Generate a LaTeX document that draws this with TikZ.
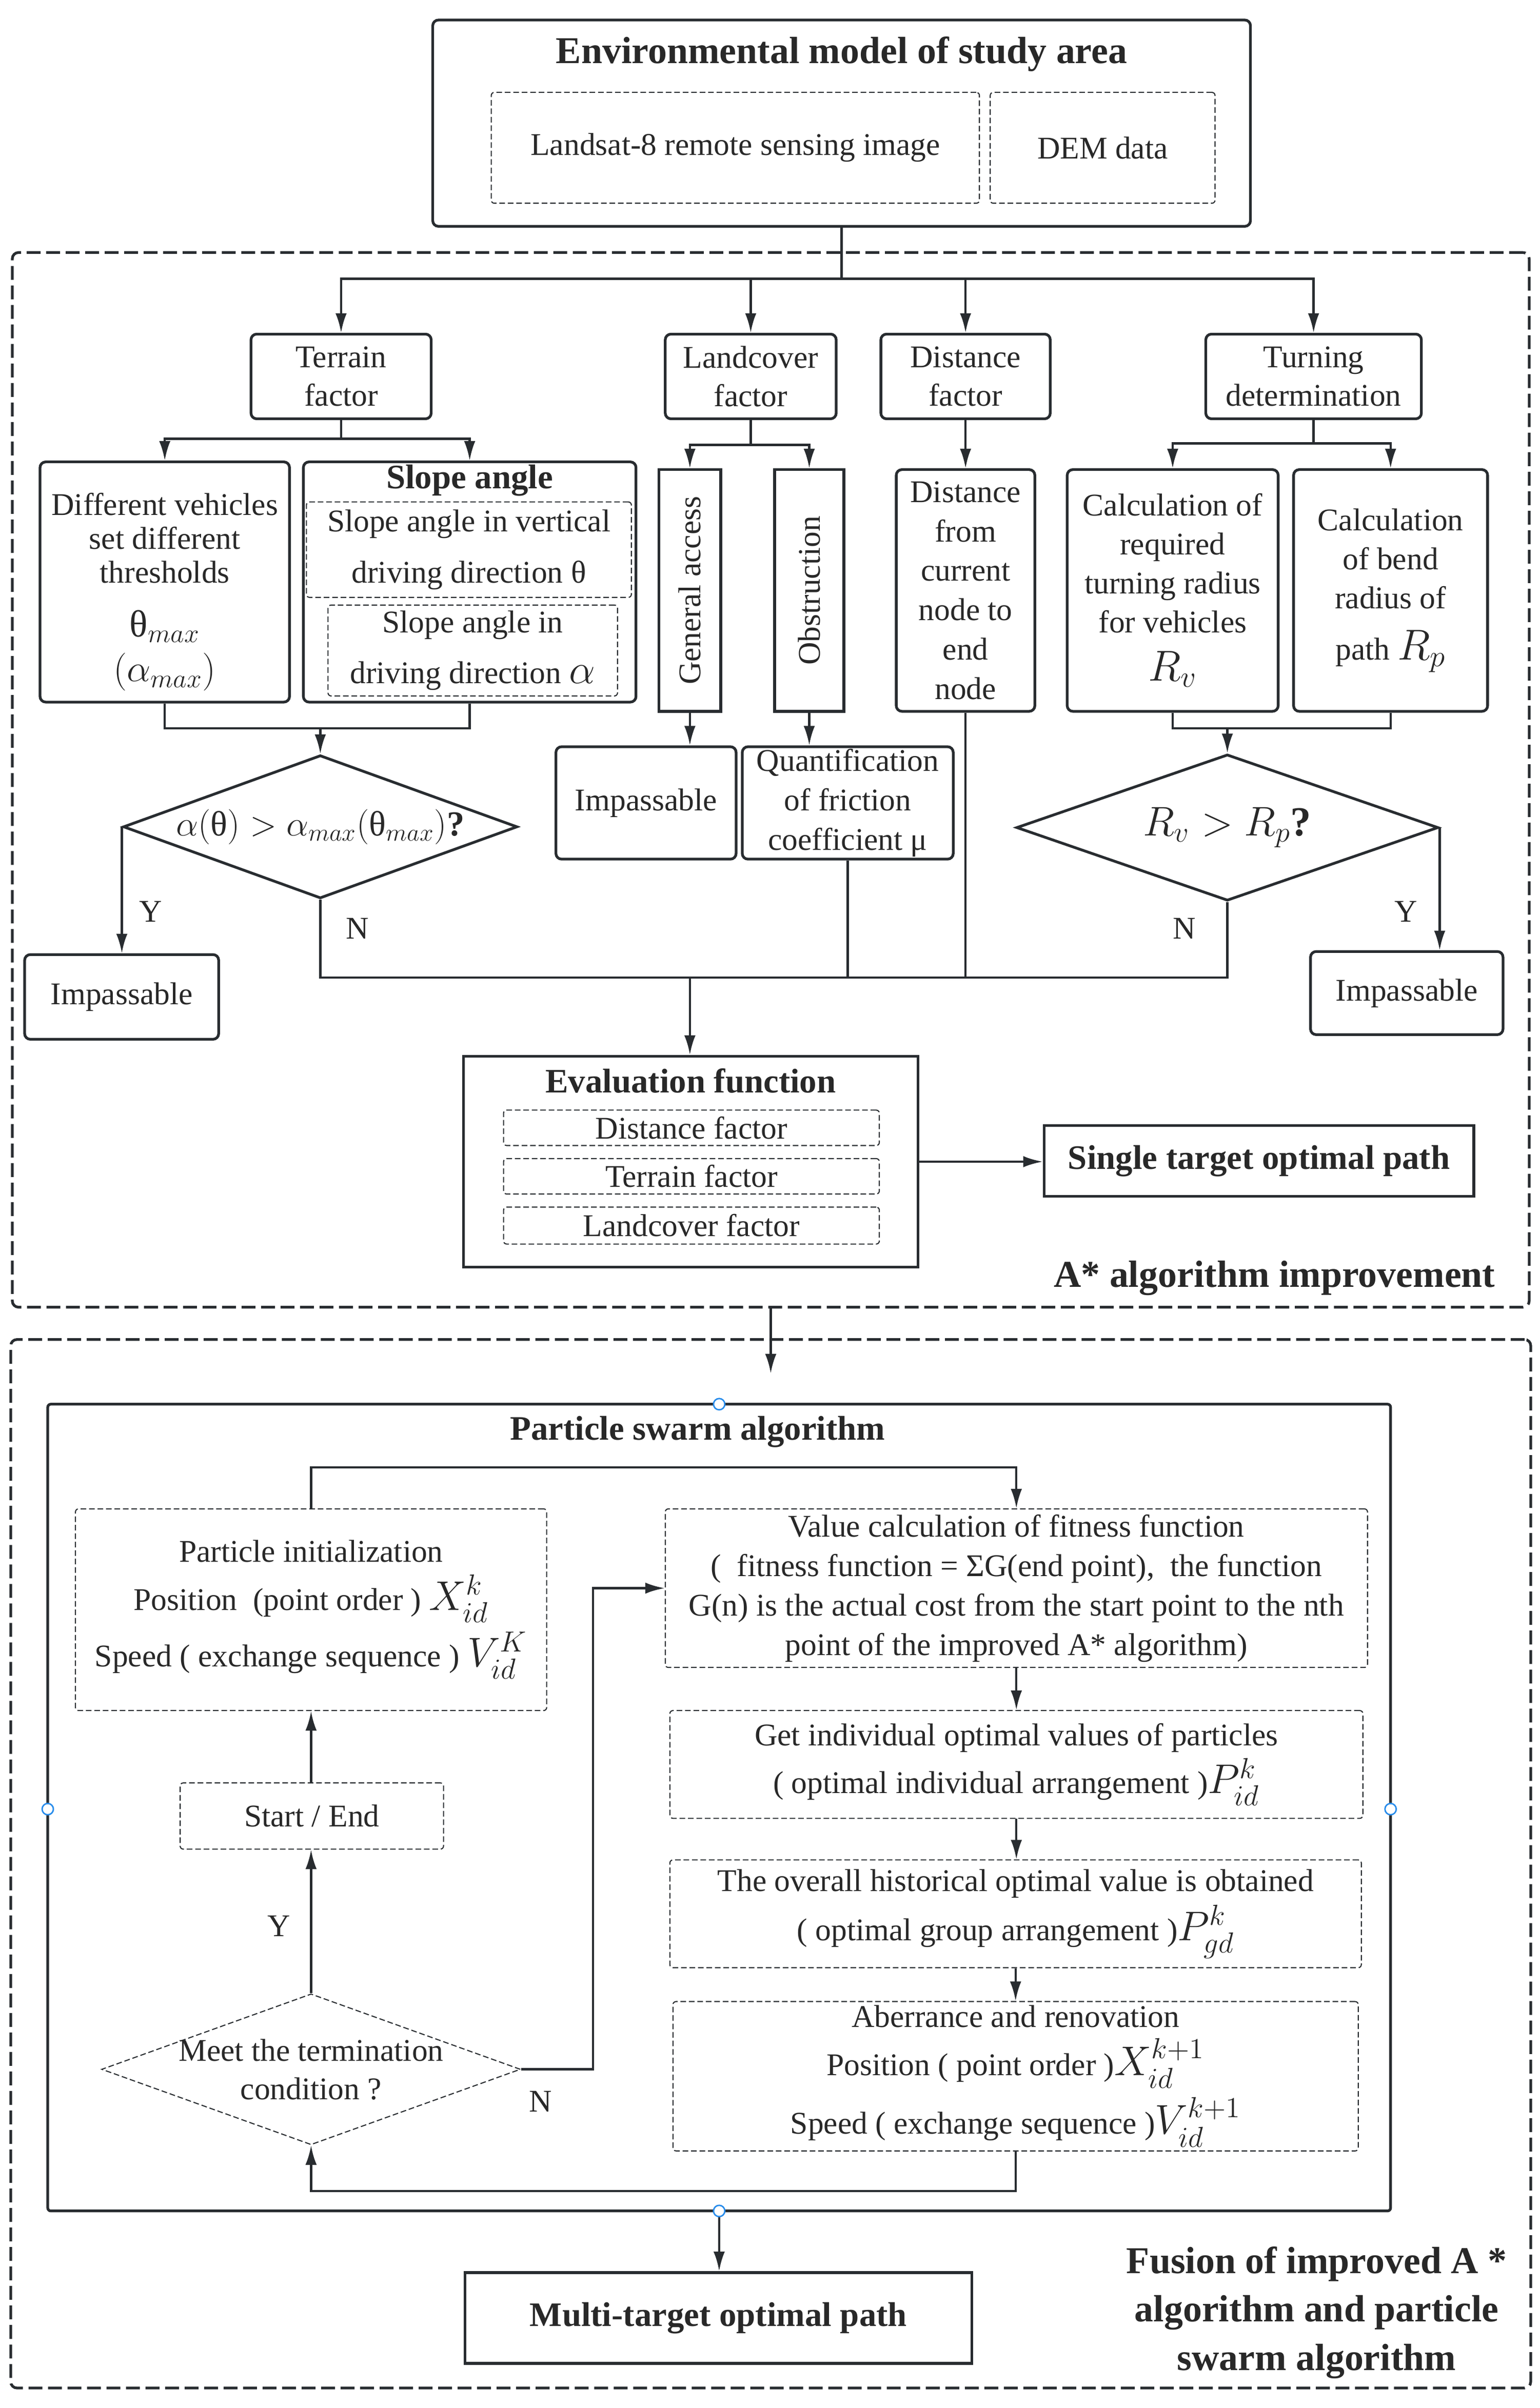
\RequirePackage{fix-cm}
\documentclass[tikz,border=0pt]{standalone}
\usepackage{fontspec}
\setmainfont{Liberation Serif}
\usepackage{amsmath}
\usepackage{graphicx}
\usetikzlibrary{arrows.meta,shapes.geometric}
\newcommand\setfs[2]{\fontsize{#1}{#2}\selectfont}
\definecolor{ln}{RGB}{40,44,48}
\definecolor{txt}{RGB}{40,40,40}
\definecolor{hblue}{RGB}{40,140,235}
\begin{document}
\begin{tikzpicture}[x=0.3mm,y=-0.3mm,
  every node/.style={text=txt, font=\setfs{17.5}{21.5}},
  box/.style={draw=ln, line width=1.5pt, rounded corners=1.1mm, inner sep=0pt, align=center},
  sbox/.style={draw=ln, line width=1.5pt, inner sep=0pt, align=center},
  dbox/.style={draw=ln, line width=0.6pt, dash pattern=on 1.1mm off 0.55mm, rounded corners=0.6mm, inner sep=0pt, align=center},
  region/.style={draw=ln, line width=1.5pt, dash pattern=on 2.7mm off 1.1mm, rounded corners=1.2mm, inner sep=0pt},
  con/.style={draw=ln, line width=1.25pt},
  arr/.style={con, -{Latex[length=3.8mm,width=2.2mm]}},
  sz/.style 2 args={minimum width=#1*0.3mm, minimum height=#2*0.3mm},
  dia/.style={diamond, draw=ln, line width=1.5pt, inner sep=0pt},
  handle/.style={circle, draw=hblue, fill=white, line width=0.8pt, minimum size=2.2mm, inner sep=0pt},
  ttl/.style={font=\setfs{19}{23}\bfseries},
  big/.style={font=\setfs{21}{27}\bfseries},
]
\useasboundingbox (0,0) rectangle (1000,1564);

% ---------------- regions ----------------
\node[region, sz={985}{685}] (regA) at (500.5,506.5) {};
\node[region, sz={987}{681}] (regB) at (500.5,1210.5) {};

% ---------------- environment model ----------------
\node[box, sz={531}{134}] (env) at (546.5,80) {};
\node[big] (envt) at (546.5,35) {Environmental model of study area};
\node[dbox, sz={317}{72}] (landsat) at (477.5,96) {Landsat-8 remote sensing image};
\node[dbox, sz={146}{72}] (dem) at (716,96) {DEM data};

% ---------------- factors ----------------
\node[box, sz={117}{55}] (terrain) at (221.5,244.5) {Terrain\\factor};
\node[box, sz={111}{55}] (landcover) at (487.5,244.5) {Landcover\\factor};
\node[box, sz={110}{55}] (distance) at (627,244.5) {Distance\\factor};
\node[box, sz={140}{55}] (turning) at (853,244.5) {Turning\\determination};

\coordinate (bus) at (546.5,181);
\draw[con] (env.south) -- (bus);
\draw[arr] (bus) -| (terrain.north);
\draw[arr] (bus) -| (landcover.north);
\draw[arr] (bus) -| (distance.north);
\draw[arr] (bus) -| (turning.north);

% terrain branch
\node[box, sz={162}{156}] (diffveh) at (107,378) {};
\node[align=center, font=\setfs{17.5}{18.8}] (diffvehT) at (107,384.5)
  {Different vehicles\\set different\\thresholds\\[11pt]{\setfs{21}{18.8}$\text{θ}_{max}$}\\[5pt]{\setfs{21}{18.8}$(\alpha_{max})$}};
\node[box, sz={216}{156}] (slope) at (305,378) {};
\node[ttl] (slopet) at (305,312) {Slope angle};
\node[dbox, sz={211}{62}, font=\setfs{17.5}{28.2}] (sub1) at (304.5,357) {Slope angle in vertical\\driving direction θ};
\node[dbox, sz={188}{59}, font=\setfs{17.5}{28.2}] (sub2) at (307,422.5) {Slope angle in\\driving direction {\setfs{23}{28.2}$\alpha$}};

\coordinate (tb) at (221.5,285);
\draw[con] (terrain.south) -- (tb);
\draw[arr] (tb) -| (diffveh.north);
\draw[arr] (tb) -| (slope.north);

\coordinate (m1) at (208,473);
\draw[con] (diffveh.south) -- (diffveh.south |- m1) -| (slope.south);
\node[dia, sz={256}{93}, label={[font=\setfs{19.5}{20}]center:{$\alpha(\text{θ}) > \alpha_{max}(\text{θ}_{max})$\textbf{?}}}] (d1) at (208,537) {};
\draw[arr] (m1) -- (d1.north);

\node[box, sz={126}{55}] (impl) at (79,647.5) {Impassable};
\draw[arr] (d1.west) -- (d1.west |- impl.north);
\node (y1) at (98,592) {Y};
\node (n1) at (232,603) {N};

% landcover branch
\node[sbox, sz={40}{157}] (general) at (448,383.5) {\rotatebox{90}{General access}};
\node[sbox, sz={45}{157}] (obstr) at (525.5,383.5) {\rotatebox{90}{Obstruction}};
\coordinate (lb) at (487.5,289);
\draw[con] (landcover.south) -- (lb);
\draw[arr] (lb) -| (general.north);
\draw[arr] (lb) -| (obstr.north);
\node[box, sz={117}{73}] (impm) at (419.5,521.5) {Impassable};
\node[box, sz={137}{73}, font=\setfs{17.5}{21.8}] (quant) at (550.5,521.5) {Quantification\\of friction\\coefficient μ};
\draw[arr] (general.south) -- (general.south |- impm.north);
\draw[arr] (obstr.south) -- (obstr.south |- quant.north);

% distance branch
\node[box, sz={90}{157}, font=\setfs{17.5}{21.85}] (distfrom) at (627,383.5) {Distance\\from\\current\\node to\\end\\node};
\draw[arr] (distance.south) -- (distfrom.north);

% turning branch
\node[box, sz={137}{157}, font=\setfs{17.5}{21.6}] (calcrv) at (761.5,383.5)
  {Calculation of\\required\\turning radius\\for vehicles\\[5pt]{\setfs{24}{21.6}$R_v$}};
\node[box, sz={126}{157}, font=\setfs{17.5}{21.6}] (calcrp) at (903,383.5)
  {Calculation\\of bend\\radius of\\[7pt]path {\setfs{24}{21.6}$R_p$}};
\coordinate (rb) at (853,288);
\draw[con] (turning.south) -- (rb);
\draw[arr] (rb) -| (calcrv.north);
\draw[arr] (rb) -| (calcrp.north);
\coordinate (m2) at (797,473);
\draw[con] (calcrv.south) -- (calcrv.south |- m2) -| (calcrp.south);
\node[dia, sz={274}{95}, label={[font=\setfs{23}{24}]center:{$R_v > R_p$\textbf{?}}}] (d2) at (797,537.5) {};
\draw[arr] (m2) -- (d2.north);
\node[box, sz={125}{54}] (impr) at (913.5,645) {Impassable};
\draw[arr] (d2.east) -- (d2.east |- impr.north);
\node (y2) at (913,592) {Y};
\node (n2) at (769,603) {N};

% merge to evaluation
\node[sbox, sz={295}{137}] (eval) at (448.5,754.5) {};
\node[ttl] (evalt) at (448.5,702) {Evaluation function};
\node[dbox, sz={244}{23}] (ef1) at (449,732.5) {Distance factor};
\node[dbox, sz={244}{23}] (ef2) at (449,764) {Terrain factor};
\node[dbox, sz={244}{24}] (ef3) at (449,796) {Landcover factor};

\coordinate (nb) at (448,635);
\draw[con] (d1.south) -- (d1.south |- nb) -- (d2.south |- nb) -- (d2.south);
\draw[con] (quant.south) -- (quant.south |- nb);
\draw[con] (distfrom.south) -- (distfrom.south |- nb);
\draw[arr] (nb) -- (nb |- eval.north);

\node[sbox, sz={279}{46}, ttl] (single) at (817.5,754) {Single target optimal path};
\draw[arr] (eval.east) -- (eval.east -| single.west);

\node[big, anchor=east] (alabel) at (975,830) {A* algorithm improvement};

% ---------------- PSO ----------------
\coordinate (pinB) at (500.5,892);
\draw[arr] (regA.south) -- (pinB);

\node[box, sz={872}{524}, rounded corners=0.6mm] (pso) at (467,1174) {};
\node[ttl] (psot) at (453,930) {Particle swarm algorithm};

\node[dbox, sz={306}{131}, font=\setfs{17.5}{26.5}] (init) at (202,1045.5)
  {Particle initialization\\Position\ \ (point order ) {\setfs{23}{26.5}$X_{id}^{k}$}\\[5pt]Speed ( exchange sequence ) {\setfs{23}{26.5}$V_{id}^{K}$}};
\node[dbox, sz={456}{103}, font=\setfs{17.5}{21.9}] (fit) at (660,1031.5)
  {Value calculation of fitness function\\(\ \ fitness function = ΣG(end point),\ \ the function\\G(n) is the actual cost from the start point to the nth\\point of the improved A* algorithm)};
\node[dbox, sz={450}{70}, font=\setfs{17.5}{26.5}] (getind) at (660,1146)
  {Get individual optimal values of particles\\( optimal individual arrangement ){\setfs{23}{26.5}$P_{id}^{k}$}};
\node[dbox, sz={449}{70}, font=\setfs{17.5}{27.3}] (overall) at (659.5,1243)
  {The overall historical optimal value is obtained\\( optimal group arrangement ){\setfs{23}{27.3}$P_{gd}^{k}$}};
\node[dbox, sz={445}{97}, font=\setfs{17.5}{26.5}] (aberr) at (659.5,1348.5)
  {Aberrance and renovation\\Position ( point order ){\setfs{23}{26.5}$X_{id}^{k+1}$}\\[4pt]Speed ( exchange sequence ){\setfs{23}{26.5}$V_{id}^{k+1}$}};
\node[dbox, sz={171}{43}] (start) at (202.5,1179.5) {Start / End};
\node[dia, line width=0.6pt, dash pattern=on 1.1mm off 0.55mm, sz={272}{98},
  label={[align=center, font=\setfs{17.5}{21.3}]center:{Meet the termination\\condition ?}}] (term) at (202,1344) {};

\coordinate (loopTop) at (202,953);
\draw[arr] (init.north) -- (loopTop) -| (fit.north);
\draw[arr] (fit.south) -- (fit.south |- getind.north);
\draw[arr] (getind.south) -- (getind.south |- overall.north);
\draw[arr] (overall.south) -- (overall.south |- aberr.north);
\coordinate (loopBot) at (202,1423);
\draw[arr] (aberr.south) -- (aberr.south |- loopBot) -| (term.south);
\draw[arr] (term.north) -- (term.north |- start.south);
\draw[arr] (term.north |- start.north) -- (init.south);
\coordinate (nx) at (385,1031.5);
\draw[arr] (term.east) -| (nx) -- (fit.west);
\node (y3) at (181,1251) {Y};
\node (n3) at (351,1365) {N};

\node[sbox, sz={329}{59}, ttl] (multi) at (466.5,1505.5) {Multi-target optimal path};
\draw[arr] (pso.south) -- (pso.south |- multi.north);

\node[big, align=center, font=\setfs{21}{26.9}\bfseries] (fus) at (855,1502) {Fusion of improved A *\\algorithm and particle\\swarm algorithm};

% selection handles
\node[handle] (h1) at (467,912) {};
\node[handle] (h2) at (31,1175) {};
\node[handle] (h3) at (903,1175) {};
\node[handle] (h4) at (467,1436) {};
\end{tikzpicture}
\end{document}
